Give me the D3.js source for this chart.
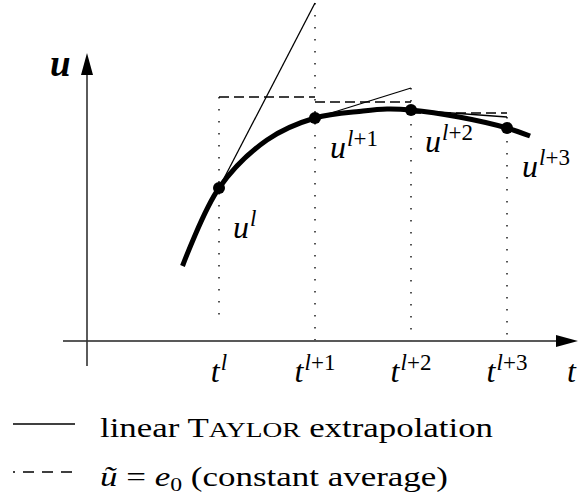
<!DOCTYPE html>
<html><head><meta charset="utf-8">
<script src="https://cdn.jsdelivr.net/npm/d3@7"></script>
<style>body{margin:0;background:#fff}</style>
</head><body><svg id="c" width="578" height="495"></svg>
<script>
// ---- data ----
const tTicks = [0, 1, 2, 3];
const tickLabels = ["l", "l+1", "l+2", "l+3"];          // superscripts of t
const uPoints = [1.53, 2.23, 2.31, 2.13];                 // u^l .. u^{l+3}
const pointLabels = ["l", "l+1", "l+2", "l+3"];
const curveT = [-0.38, 0, 0.5, 1, 1.5, 1.75, 2, 2.5, 3, 3.24];
const curveU = [0.75, 1.53, 2.01, 2.23, 2.30, 2.32, 2.31, 2.24, 2.13, 2.05];
const slopes = [1.85, 0.30, -0.07];                       // Taylor slopes du/dt
const averages = [2.44, 2.39, 2.28];                      // constant averages e0
const legendLabels = ["linear ", " extrapolation"];

const svg = d3.select("#c");
const x = d3.scaleLinear().domain([0, 3]).range([219, 507]);
const y = d3.scaleLinear().domain([0, 1]).range([341, 241]);
const FONT = "'Liberation Serif', serif";

// axes
const x0 = x(-1.375);
svg.append("line").attr("x1", 63).attr("x2", 560).attr("y1", y(0)).attr("y2", y(0))
  .attr("stroke", "#222").attr("stroke-width", 1.6);
svg.append("path").attr("d", `M578,${y(0)} L556,${y(0)-6} L556,${y(0)+6} Z`).attr("fill", "#000");
svg.append("line").attr("x1", x0).attr("x2", x0).attr("y1", 366).attr("y2", 70)
  .attr("stroke", "#333").attr("stroke-width", 1.6);
svg.append("path").attr("d", `M${x0},53 L${x0-6},75 L${x0+6},75 Z`).attr("fill", "#000");

// dotted verticals
const dotTop = [averages[0], uPoints[0] + slopes[0], uPoints[1] + slopes[1], uPoints[2] + slopes[2]];
const dotBottom = [0.19, 0, 0, 0];
tTicks.forEach((t, i) => {
  svg.append("line").attr("x1", x(t)).attr("x2", x(t))
    .attr("y1", y(dotTop[i])).attr("y2", y(dotBottom[i]))
    .attr("stroke", "#555").attr("stroke-width", 2).attr("stroke-dasharray", "1.6,10.4");
});

// dashed averages
averages.forEach((a, i) => {
  svg.append("line").attr("x1", x(tTicks[i])).attr("x2", x(tTicks[i + 1]))
    .attr("y1", y(a)).attr("y2", y(a))
    .attr("stroke", "#000").attr("stroke-width", 1.4).attr("stroke-dasharray", "10,5");
});

// tangents
slopes.forEach((s, i) => {
  svg.append("line").attr("x1", x(tTicks[i])).attr("x2", x(tTicks[i + 1]))
    .attr("y1", y(uPoints[i])).attr("y2", y(uPoints[i] + s))
    .attr("stroke", "#000").attr("stroke-width", 1.3);
});

// curve
const line = d3.line().x(d => x(d[0])).y(d => y(d[1])).curve(d3.curveCatmullRom.alpha(0.5));
svg.append("path").attr("d", line(curveT.map((t, i) => [t, curveU[i]])))
  .attr("fill", "none").attr("stroke", "#000").attr("stroke-width", 5);

// points
svg.selectAll("circle.p").data(uPoints).join("circle").attr("class", "p")
  .attr("cx", (d, i) => x(tTicks[i])).attr("cy", d => y(d)).attr("r", 6).attr("fill", "#000");

function supParts(sel, s) {
  s.split(/(\+)/).forEach(p => {
    sel.append("tspan").attr("font-style", /[a-z]/.test(p) ? "italic" : "normal").text(p);
  });
}

// point labels
const plOff = [[14, 50], [15, 40], [14, 42], [15, 49]];
pointLabels.forEach((s, i) => {
  const t = svg.append("text").attr("x", x(tTicks[i]) + plOff[i][0]).attr("y", y(uPoints[i]) + plOff[i][1])
    .attr("font-family", FONT).attr("font-size", 32);
  t.append("tspan").attr("font-style", "italic").text("u");
  supParts(t.append("tspan").attr("font-size", 23).attr("dy", -12).attr("dx", 1), s);
});

// tick labels
tTicks.forEach((t, i) => {
  const tx = svg.append("text").attr("x", x(t)).attr("y", 382).attr("text-anchor", "middle")
    .attr("font-family", FONT).attr("font-size", 32);
  tx.append("tspan").attr("font-style", "italic").text("t");
  supParts(tx.append("tspan").attr("font-size", 23).attr("dy", -12).attr("dx", 1), tickLabels[i]);
});

// axis labels
svg.append("text").attr("x", 567).attr("y", 382).attr("font-family", FONT).attr("font-size", 32)
  .attr("font-style", "italic").text("t");
svg.append("text").attr("x", 50).attr("y", 76).attr("font-family", FONT).attr("font-size", 37)
  .attr("font-style", "italic").attr("font-weight", "bold").text("u");

// legend
svg.append("line").attr("x1", 13).attr("x2", 75).attr("y1", 424).attr("y2", 424)
  .attr("stroke", "#000").attr("stroke-width", 1.3);
svg.append("line").attr("x1", 13).attr("x2", 75).attr("y1", 472).attr("y2", 472)
  .attr("stroke", "#000").attr("stroke-width", 1.3).attr("stroke-dasharray", "11,8").attr("stroke-dashoffset", 9);
const l1 = svg.append("text").attr("x", 100).attr("y", 437).attr("font-family", FONT).attr("font-size", 28)
  .attr("textLength", 393).attr("lengthAdjust", "spacingAndGlyphs");
l1.append("tspan").text(legendLabels[0]);
l1.append("tspan").text("T");
l1.append("tspan").attr("font-size", 22).text("AYLOR");
l1.append("tspan").text(legendLabels[1]);
const l2 = svg.append("text").attr("x", 100).attr("y", 486).attr("font-family", FONT).attr("font-size", 28)
  .attr("textLength", 348).attr("lengthAdjust", "spacingAndGlyphs");
l2.append("tspan").attr("font-style", "italic").text("\u0169");
l2.append("tspan").text(" = ");
l2.append("tspan").attr("font-style", "italic").text("e");
l2.append("tspan").attr("font-size", 19).attr("dy", 5).text("0");
l2.append("tspan").attr("dy", -5).text(" (constant average)");
</script></body></html>
